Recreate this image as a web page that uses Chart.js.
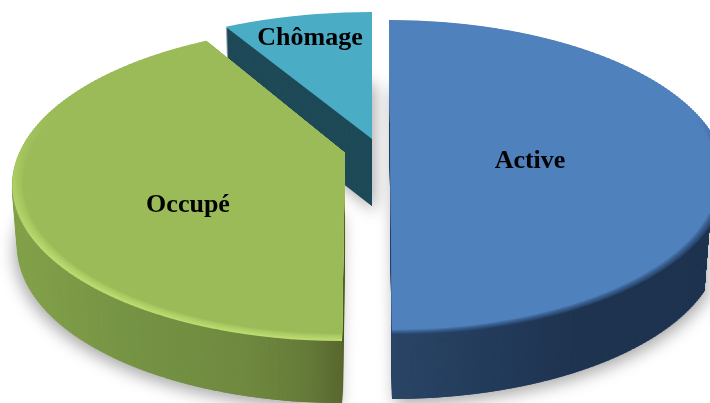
<!DOCTYPE html>
<html>
<head>
<meta charset="utf-8">
<style>
  html, body { margin: 0; padding: 0; background: #fff; overflow: hidden; }
  canvas { display: block; }
</style>
<script src="https://cdn.jsdelivr.net/npm/chart.js@4"></script>
</head>
<body>
<canvas id="pie" width="710" height="403"></canvas>
<script>
// Chart data
const categories = ["Active", "Occupé", "Chômage"];
const shares = [50, 41.6, 8.4];
const faceColors = ["#4f81bd", "#9bbb59", "#4bacc6"];

// Perspective of the pie plane (far radius 127, near radius 188)
const WIDTH = 710;
const HEIGHT = 403;
const PERSP_K = 0.1937;
const PERSP_A = 151.6;
const PERSP_B = 326;

// Where each slice's apex lands once exploded, plus wall and rim styling
const sliceStyle = [
  {
    x: 390.2, y: 147, lean: 0.0095, depth: 64, widen: 1.01,
    wall: [[0, "#2a4566"], [0.35, "#233b5a"], [0.6, "#1f3450"], [1, "#1f3450"]],
    rim: "#26436a", rimFrom: -0.2, rimTo: 0.25, rimSize: 0.022,
  },
  {
    x: 345, y: 153, lean: -0.016, depth: 62, widen: 1,
    wall: [[0, "#84a24b"], [0.35, "#769445"], [0.7, "#708a40"], [0.9, "#657a39"], [1, "#58682f"]],
    rim: "#bcdc70", rimFrom: -0.3, rimTo: 0.6, rimSize: 0.03,
  },
  {
    x: 372, y: 139, lean: 0, depth: 67, widen: 1.04,
    wall: [[0, "#1f4a58"], [1, "#1f4a58"]],
    rim: null,
  },
];

// Label baselines
const labelCenters = [[530, 168], [188, 212], [310, 45]];

function mix(hexA, hexB, t) {
  const a = parseInt(hexA.slice(1), 16);
  const b = parseInt(hexB.slice(1), 16);
  const ch = (s) => Math.round(((a >> s) & 255) * (1 - t) + ((b >> s) & 255) * t);
  return `rgb(${ch(16)}, ${ch(8)}, ${ch(0)})`;
}

function newLayer() {
  const c = document.createElement("canvas");
  c.width = WIDTH;
  c.height = HEIGHT;
  return c;
}

// Draw one library arc through the perspective map, 2px strip by 2px strip
function drawFace(tctx, arc, style, fill, scale) {
  const saved = arc.options;
  const R = arc.outerRadius;
  arc.options = {
    backgroundColor: fill, borderColor: "transparent", borderWidth: 0, offset: 0,
    spacing: 0, circular: true, borderRadius: 0, borderAlign: "center",
    borderJoinStyle: "round", selfJoin: false,
  };
  for (let y = 0; y < HEIGHT; y += 2) {
    const Y = y + 1 - style.y;
    const v = Y / (PERSP_A + PERSP_K * Y);
    if (Math.abs(v) > 1.02) continue;
    const s = 1 / (1 - PERSP_K * v);
    const a = (PERSP_B * style.widen * s * scale) / R;
    const d = ((PERSP_A * s * s) * scale) / R;
    const localY = arc.y + (v * R) / scale;
    tctx.save();
    tctx.beginPath();
    tctx.rect(0, y, WIDTH, 2);
    tctx.clip();
    tctx.transform(a, 0, 0, d, style.x + style.lean * Y - a * arc.x, y + 1 - d * localY);
    arc.draw(tctx);
    tctx.restore();
  }
  arc.options = saved;
}

// Silhouette of a slice filled with its horizontal wall gradient
function wallLayer(arc, style) {
  const layer = newLayer();
  const tctx = layer.getContext("2d");
  drawFace(tctx, arc, style, "#000", 1);
  const grad = tctx.createLinearGradient(style.x < 380 ? 13 : 390, 0, style.x < 380 ? 342 : 710, 0);
  style.wall.forEach(([t, c]) => grad.addColorStop(t, c));
  tctx.globalCompositeOperation = "source-in";
  tctx.fillStyle = grad;
  tctx.fillRect(0, 0, WIDTH, HEIGHT);
  return layer;
}

// Top face with a soft bevel along the outer edge
function faceLayer(arc, style, color) {
  const layer = newLayer();
  const tctx = layer.getContext("2d");
  if (!style.rim) {
    drawFace(tctx, arc, style, color, 1);
    return layer;
  }
  const steps = 6;
  for (let i = 0; i <= steps; i++) {
    const t = i / steps;
    const strength = Math.pow(1 - t, 0.8);
    const grad = tctx.createLinearGradient(
      0, arc.y + style.rimFrom * arc.outerRadius,
      0, arc.y + style.rimTo * arc.outerRadius
    );
    grad.addColorStop(0, color);
    grad.addColorStop(1, mix(color, style.rim, strength));
    drawFace(tctx, arc, style, grad, 1 - style.rimSize * t);
  }
  return layer;
}

// One copy of a wall silhouette, k px down and slightly narrower with depth
function drawWall(ctx, layer, style, k) {
  const f = 1 - (0.016 * k) / style.depth;
  ctx.drawImage(layer, style.x * (1 - f), k, WIDTH * f, HEIGHT);
}

const pie3d = {
  id: "pie3d",
  beforeDatasetsDraw(chart) {
    const ctx = chart.ctx;
    const arcs = chart.getDatasetMeta(0).data;
    const walls = arcs.map((arc, i) => wallLayer(arc, sliceStyle[i]));
    const faces = arcs.map((arc, i) => faceLayer(arc, sliceStyle[i], faceColors[i]));

    ctx.save();
    ctx.fillStyle = "#fff";
    ctx.fillRect(0, 0, WIDTH, HEIGHT);

    // Soft shadow below the whole pie
    ctx.shadowColor = "rgba(0, 0, 0, 0.34)";
    ctx.shadowBlur = 16;
    [2, 1, 0].forEach((i) => {
      ctx.shadowOffsetX = i === 1 ? -3 : 3;
      ctx.shadowOffsetY = 5;
      drawWall(ctx, walls[i], sliceStyle[i], sliceStyle[i].depth);
    });
    ctx.shadowColor = "transparent";
    ctx.shadowBlur = 0;
    ctx.shadowOffsetX = 0;
    ctx.shadowOffsetY = 0;

    // Back to front
    [2, 1, 0].forEach((i) => {
      for (let k = sliceStyle[i].depth; k > 0; k--) {
        drawWall(ctx, walls[i], sliceStyle[i], k);
      }
      ctx.drawImage(faces[i], 0, 0);
    });

    // Labels
    ctx.fillStyle = "#000";
    ctx.font = "bold 26px 'Liberation Serif', serif";
    ctx.textAlign = "center";
    ctx.textBaseline = "alphabetic";
    categories.forEach((name, i) => {
      ctx.fillText(name, labelCenters[i][0], labelCenters[i][1]);
    });
    ctx.restore();
    return false;
  },
};

new Chart(document.getElementById("pie").getContext("2d"), {
  type: "pie",
  data: {
    labels: categories,
    datasets: [{ data: shares, backgroundColor: faceColors, borderWidth: 0 }],
  },
  options: {
    responsive: false,
    animation: false,
    devicePixelRatio: 1,
    plugins: { legend: { display: false }, tooltip: { enabled: false } },
  },
  plugins: [pie3d],
});
</script>
</body>
</html>
